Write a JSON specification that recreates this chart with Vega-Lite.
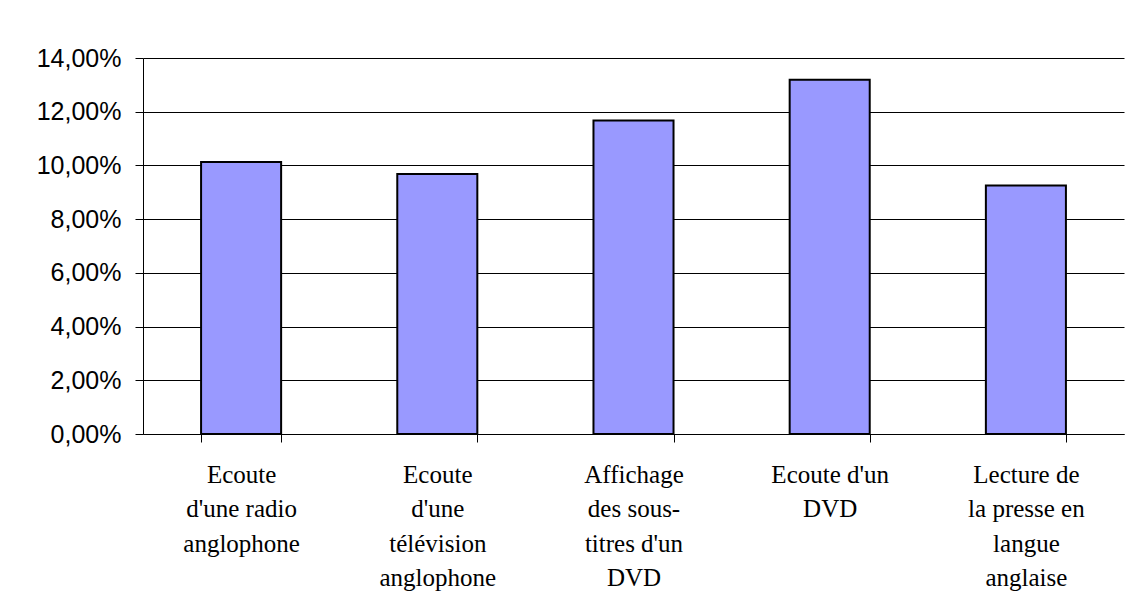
{
  "$schema": "https://vega.github.io/schema/vega-lite/v6.json",
  "width": 981,
  "height": 376,
  "autosize": "none",
  "padding": {"left": 143, "top": 58, "right": 4, "bottom": 181},
  "background": "white",
  "config": {
    "locale": {"number": {"decimal": ",", "thousands": " ", "grouping": [3], "currency": ["", " €"]}},
    "view": {"stroke": null},
    "axis": {"domainColor": "black", "tickColor": "black", "gridColor": "black", "gridOpacity": 1, "labelColor": "black"}
  },
  "data": {
    "values": [
      {"activite": "Ecoute|d'une radio|anglophone", "part": 0.1013},
      {"activite": "Ecoute|d'une|télévision|anglophone", "part": 0.0968},
      {"activite": "Affichage|des sous-|titres d'un|DVD", "part": 0.1167},
      {"activite": "Ecoute d'un|DVD", "part": 0.1319},
      {"activite": "Lecture de|la presse en|langue|anglaise", "part": 0.0925}
    ]
  },
  "mark": {"type": "bar", "fill": "#9999FF", "stroke": "black", "strokeWidth": 2},
  "encoding": {
    "x": {
      "field": "activite",
      "type": "nominal",
      "sort": null,
      "scale": {"paddingInner": 0.592, "paddingOuter": 0.296},
      "axis": {
        "title": null,
        "labelAngle": 0,
        "labelExpr": "split(datum.label, '|')",
        "labelFont": "Liberation Serif",
        "labelFontSize": 25,
        "labelLineHeight": 34.5,
        "labelPadding": 20,
        "labelBaseline": "top",
        "tickBand": "extent",
        "tickSize": 8,
        "labelLimit": 300
      }
    },
    "y": {
      "field": "part",
      "type": "quantitative",
      "scale": {"domain": [0, 0.14], "nice": false},
      "axis": {
        "title": null,
        "format": ".2%",
        "values": [0, 0.02, 0.04, 0.06, 0.08, 0.1, 0.12, 0.14],
        "labelFont": "Liberation Sans",
        "labelFontSize": 25,
        "labelPadding": 14,
        "tickSize": 8,
        "grid": true
      }
    }
  }
}
